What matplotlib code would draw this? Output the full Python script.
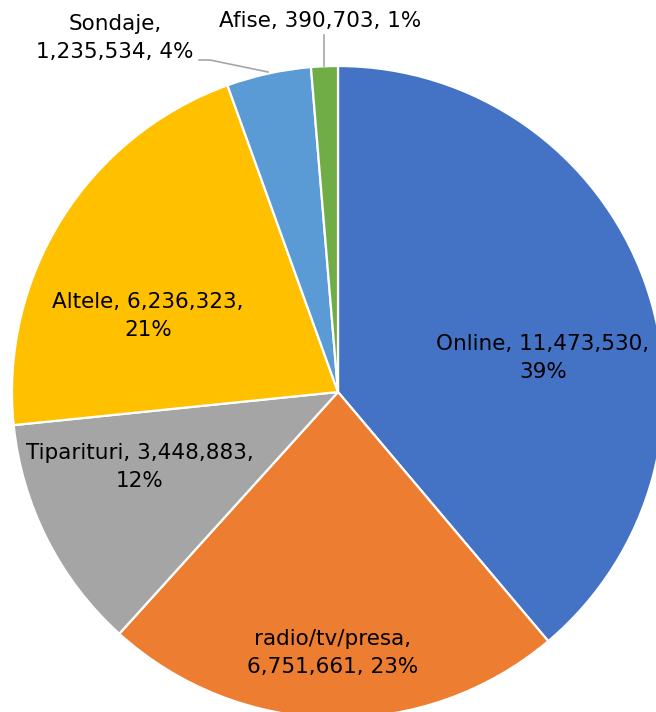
import matplotlib.pyplot as plt

# surse de finantare / categorii
categorii = ['Online', 'radio/tv/presa', 'Tiparituri', 'Altele', 'Sondaje', 'Afise']
valori = [11473530, 6751661, 3448883, 6236323, 1235534, 390703]
culori = ['#4472C4', '#ED7D31', '#A5A5A5', '#FFC000', '#5B9BD5', '#70AD47']

W, H = 656, 712
cx, cy, R = 338, 392, 326   # centrul si raza in pixeli

fig = plt.figure(figsize=(W / 100, H / 100), dpi=100)
ax = fig.add_axes([0, 0, 1, 1])

ax.pie(valori, colors=culori, startangle=90, counterclock=False, radius=1,
       wedgeprops=dict(edgecolor='white', linewidth=1.6))

# pie() isi pune singur limitele, le suprascriem dupa
ax.set_xlim(-cx / R, (W - cx) / R)
ax.set_ylim(-(H - cy) / R, cy / R)
ax.set_aspect('auto')
ax.axis('off')


def px(x, y):
    return (x - cx) / R, (cy - y) / R


total = sum(valori)
etichete = []
for c, v in zip(categorii, valori):
    p = round(v / total * 100)
    etichete.append((c, f'{v:,}', f'{p}%'))

fs = 15.5
pozitii = {
    'Online': ((543, 358), '{0}, {1},\n{2}'),
    'radio/tv/presa': ((333, 653), '{0},\n{1}, {2}'),
    'Tiparituri': ((140, 467), '{0}, {1},\n{2}'),
    'Altele': ((148, 316), '{0}, {1},\n{2}'),
    'Sondaje': ((115, 38), '{0},\n{1}, {2}'),
    'Afise': ((320, 21), '{0}, {1}, {2}'),
}
for c, v, p in etichete:
    (x, y), fmt = pozitii[c]
    ax.text(*px(x, y), fmt.format(c, v, p), ha='center', va='center',
            fontsize=fs, linespacing=1.5, color='black')

# linii de legatura pentru feliile mici
lx, ly = zip(*[px(199, 60), px(210, 60), px(268, 72)])
ax.plot(lx, ly, color='#A6A6A6', lw=1.2)
lx, ly = zip(*[px(324, 35), px(324, 66)])
ax.plot(lx, ly, color='#A6A6A6', lw=1.2)

fig.savefig('out.png', dpi=100)
